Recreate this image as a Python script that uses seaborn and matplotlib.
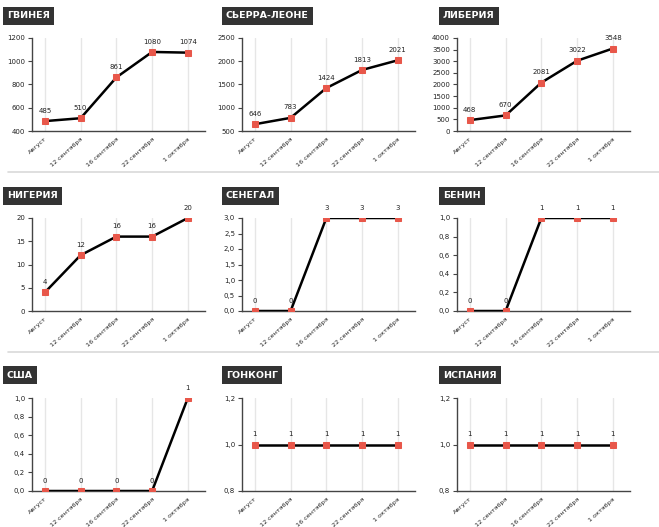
import matplotlib
matplotlib.use("Agg")
import matplotlib.pyplot as plt
import matplotlib.transforms as mtransforms
import seaborn as sns
import pandas as pd

categories = ["Август", "12 сентября", "16 сентября", "22 сентября", "1 октября"]

titles = ["ГВИНЕЯ", "СЬЕРРА-ЛЕОНЕ", "ЛИБЕРИЯ",
          "НИГЕРИЯ", "СЕНЕГАЛ", "БЕНИН",
          "США", "ГОНКОНГ", "ИСПАНИЯ"]

guinea = [485, 510, 861, 1080, 1074]
sierra_leone = [646, 783, 1424, 1813, 2021]
liberia = [468, 670, 2081, 3022, 3548]
nigeria = [4, 12, 16, 16, 20]
senegal = [0, 0, 3, 3, 3]
benin = [0, 0, 1, 1, 1]
usa = [0, 0, 0, 0, 1]
hong_kong = [1, 1, 1, 1, 1]
spain = [1, 1, 1, 1, 1]

series = [guinea, sierra_leone, liberia, nigeria, senegal, benin, usa, hong_kong, spain]

yticks = [
    [400, 600, 800, 1000, 1200],
    [500, 1000, 1500, 2000, 2500],
    [0, 500, 1000, 1500, 2000, 2500, 3000, 3500, 4000],
    [0, 5, 10, 15, 20],
    [0.0, 0.5, 1.0, 1.5, 2.0, 2.5, 3.0],
    [0.0, 0.2, 0.4, 0.6, 0.8, 1.0],
    [0.0, 0.2, 0.4, 0.6, 0.8, 1.0],
    [0.8, 1.0, 1.2],
    [0.8, 1.0, 1.2],
]
ytick_labels = [
    ["400", "600", "800", "1000", "1200"],
    ["500", "1000", "1500", "2000", "2500"],
    ["0", "500", "1000", "1500", "2000", "2500", "3000", "3500", "4000"],
    ["0", "5", "10", "15", "20"],
    ["0,0", "0,5", "1,0", "1,5", "2,0", "2,5", "3,0"],
    ["0,0", "0,2", "0,4", "0,6", "0,8", "1,0"],
    ["0,0", "0,2", "0,4", "0,6", "0,8", "1,0"],
    ["0,8", "1,0", "1,2"],
    ["0,8", "1,0", "1,2"],
]

sns.set_style("white")
plt.rcParams['font.family'] = ['DejaVu Sans']

W, H = 659, 527
fig = plt.figure(figsize=(W / 100, H / 100), dpi=100)

col_left = [32, 242, 457]
ax_w = 173
row_top = [38, 218, 398]
ax_h = 93
title_y = [16, 196, 375]
title_x = [5, 224, 441]

RED = "#e8574a"
shift = mtransforms.ScaledTranslation(9 / 100, 0, fig.dpi_scale_trans)

for i, (vals, title) in enumerate(zip(series, titles)):
    r, c = divmod(i, 3)
    left = col_left[c] / W
    bottom = 1 - (row_top[r] + ax_h) / H
    ax = fig.add_axes([left, bottom, ax_w / W, ax_h / H])
    df = pd.DataFrame({"x": list(range(len(categories))), "y": vals})
    for k in range(len(categories)):
        ax.axvline(k, color="#e6e6e6", lw=1, zorder=0)
    sns.lineplot(data=df, x="x", y="y", ax=ax, color="black", lw=1.8,
                 marker="s", markersize=4.8, markerfacecolor=RED,
                 markeredgecolor=RED, zorder=3)
    for k, v in enumerate(vals):
        ax.annotate(f"{v}", (k, v), xytext=(0, 7.5), textcoords="offset points",
                    ha="center", va="center", fontsize=5, color="#222222",
                    zorder=4, annotation_clip=False)
    ax.set_xlim(-0.36, 4.48)
    ax.set_ylim(yticks[i][0], yticks[i][-1])
    ax.set_yticks(yticks[i])
    ax.set_yticklabels(ytick_labels[i], fontsize=5, color="#222222")
    ax.set_xticks(range(len(categories)))
    ax.set_xticklabels(categories, rotation=42, ha="right", rotation_mode="anchor",
                       fontsize=4.6, color="#222222")
    for lab in ax.get_xticklabels():
        lab.set_transform(lab.get_transform() + shift)
    ax.set_xlabel("")
    ax.set_ylabel("")
    for s in ["top", "right"]:
        ax.spines[s].set_visible(False)
    for s in ["left", "bottom"]:
        ax.spines[s].set_color("#444444")
        ax.spines[s].set_linewidth(1)
    ax.tick_params(axis="y", length=3, width=0.8, color="#444444", pad=2, direction="out", left=True)
    ax.tick_params(axis="x", length=0, pad=4)
    ax.patch.set_alpha(0)

    fig.text(title_x[c] / W + 0.003, 1 - title_y[r] / H, title, fontsize=6.8, color="white",
             fontweight="bold", ha="left", va="center",
             bbox=dict(boxstyle="square,pad=0.45", fc="#333333", ec="none"))

for yy in [172, 352]:
    fig.add_artist(plt.Line2D([8 / W, 1.0], [1 - yy / H, 1 - yy / H],
                              color="#d9d9d9", lw=1.2, transform=fig.transFigure))

fig.savefig("out.png", dpi=100)
